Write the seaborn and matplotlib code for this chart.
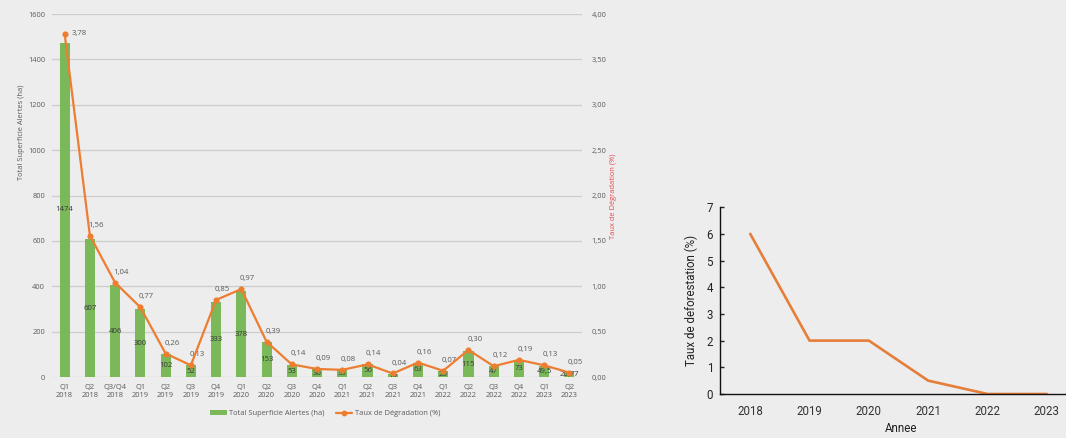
import matplotlib
matplotlib.use("Agg")
import matplotlib.pyplot as plt
import seaborn as sns
import numpy as np
import pandas as pd
from matplotlib.patches import Patch
from matplotlib.lines import Line2D
from matplotlib.ticker import FuncFormatter, MultipleLocator

# ---- data -------------------------------------------------------------
periods = ["Q1\n2018", "Q2\n2018", "Q3/Q4\n2018", "Q1\n2019", "Q2\n2019", "Q3\n2019",
           "Q4\n2019", "Q1\n2020", "Q2\n2020", "Q3\n2020", "Q4\n2020", "Q1\n2021",
           "Q2\n2021", "Q3\n2021", "Q4\n2021", "Q1\n2022", "Q2\n2022", "Q3\n2022",
           "Q4\n2022", "Q1\n2023", "Q2\n2023"]
area_ha = [1474, 607, 406, 300, 102, 52, 333, 378, 153, 53, 36, 33, 56, 15, 63,
           26, 115, 47, 73, 49.5, 20.77]
degradation_pct = [3.78, 1.56, 1.04, 0.77, 0.26, 0.13, 0.85, 0.97, 0.39, 0.14, 0.09,
                   0.08, 0.14, 0.04, 0.16, 0.07, 0.30, 0.12, 0.19, 0.13, 0.05]

years = [2018, 2019, 2020, 2021, 2022, 2023]
deforestation_pct = [6, 2, 2, 0.5, 0, 0]

# ---- style ------------------------------------------------------------
BG = "#EDEDED"
GREEN = "#7AB85A"
ORANGE = "#ED7D31"
GRID = "#CDCDCD"
TXT = "#5A5A5A"

sns.set_theme(style="white")
plt.rcParams["font.family"] = ["Open Sans", "DejaVu Sans"]

fig = plt.figure(figsize=(10.66, 4.38), dpi=100, facecolor=BG)


def comma(v, decimals):
    return f"{v:.{decimals}f}".replace(".", ",")


def area_label(v):
    if float(v).is_integer():
        return f"{int(v)}"
    return f"{v:g}".replace(".", ",")


# ---- left: bars + degradation rate ------------------------------------
df = pd.DataFrame({"period": periods, "area": area_ha, "rate": degradation_pct})

ax = fig.add_axes([0.0488, 0.139, 0.4972, 0.829], facecolor=BG)
sns.barplot(data=df, x="period", y="area", order=periods, color=GREEN,
            width=0.4, saturation=1, edgecolor="none", linewidth=0, ax=ax, zorder=2)
ax.set_ylim(0, 1600)
ax.yaxis.set_major_locator(MultipleLocator(200))
ax.grid(axis="y", color=GRID, linewidth=0.9, zorder=0)
ax.set_axisbelow(True)
for s in ax.spines.values():
    s.set_visible(False)
ax.tick_params(axis="both", length=0, labelsize=5.4, labelcolor=TXT, pad=5)
for t in ax.get_xticklabels():
    t.set_linespacing(1.25)
ax.set_xlabel("")
ax.set_ylabel("")

for i, v in enumerate(area_ha):
    ax.text(i, v / 2, area_label(v), ha="center", va="center", fontsize=5.6,
            color="#3A3A3A", zorder=5)

ax2 = ax.twinx()
ax2.set_facecolor("none")
sns.pointplot(data=df, x="period", y="rate", order=periods, color=ORANGE,
              markers="o", markersize=3.2, linewidth=1.6, ax=ax2, zorder=4)
ax2.set_ylim(0, 4)
ax2.set_xlim(-0.5, len(periods) - 0.5)
ax.set_xlim(-0.5, len(periods) - 0.5)
ax2.yaxis.set_major_locator(MultipleLocator(0.5))
ax2.yaxis.set_major_formatter(FuncFormatter(lambda v, p: comma(v, 2)))
ax2.tick_params(axis="y", length=0, labelsize=5.4, labelcolor=TXT, pad=7)
for s in ax2.spines.values():
    s.set_visible(False)
ax2.set_ylabel("")
ax2.set_xlabel("")

for i, r in enumerate(degradation_pct):
    if i == 0:
        ax2.annotate(comma(r, 2), (i, r), xytext=(5, 0), textcoords="offset points",
                     ha="left", va="center", fontsize=5.6, color=TXT)
    else:
        ax2.annotate(comma(r, 2), (i, r), xytext=(4.5, 7.5), textcoords="offset points",
                     ha="center", va="center", fontsize=5.6, color=TXT)

fig.text(0.0205, 1 - 132 / 438, "Total Superficie Alertes (ha)", rotation=90,
         ha="center", va="center", fontsize=5.4, color=TXT)
fig.text(0.5755, 1 - 196 / 438, "Taux de Dégradation (%)", rotation=90,
         ha="center", va="center", fontsize=5.4, color="#E8474A")

handles = [Patch(facecolor=GREEN, edgecolor="none"),
           Line2D([], [], color=ORANGE, linewidth=1.6, marker="o", markersize=3.2)]
fig.legend(handles, ["Total Superficie Alertes (ha)", "Taux de Dégradation (%)"],
           loc="center", bbox_to_anchor=(0.305, 0.055), ncol=2, frameon=False,
           fontsize=5.4, labelcolor=TXT, handlelength=2.2, handleheight=0.6,
           columnspacing=1.5, handletextpad=0.3)

# ---- right: yearly deforestation rate ---------------------------------
axr = fig.add_axes([0.6754, 0.1005, 0.34, 0.4265], facecolor=BG)
ydf = pd.DataFrame({"year": years, "rate": deforestation_pct})
sns.lineplot(data=ydf, x="year", y="rate", color="#E57E3A", linewidth=1.9, ax=axr)
axr.set_xlim(2017.49, 2023.6)
axr.set_ylim(0, 7)
axr.set_xticks(years)
axr.set_xticks([y + 0.5 for y in years[:-1]], minor=True)
axr.tick_params(axis="x", which="major", length=0, pad=8, labelsize=8.3,
                labelcolor="#333333")
axr.tick_params(axis="x", which="minor", length=3, direction="in", width=1,
                color="#222222")
axr.tick_params(axis="y", length=3, direction="in", width=1, color="#222222",
                labelsize=8.3, labelcolor="#222222", pad=5, left=True)
axr.yaxis.set_major_locator(MultipleLocator(1))
for t in axr.get_xticklabels() + axr.get_yticklabels():
    t.set_fontfamily(["Roboto", "DejaVu Sans"])
axr.spines["top"].set_visible(False)
axr.spines["right"].set_visible(False)
for s in ("left", "bottom"):
    axr.spines[s].set_color("#111111")
    axr.spines[s].set_linewidth(1.0)
axr.set_xlabel("Annee", fontsize=8.3, color="#222222", family=["Roboto", "DejaVu Sans"],
               labelpad=3)
axr.set_ylabel("Taux de deforestation (%)", fontsize=8.3, color="#222222",
               family=["Roboto", "DejaVu Sans"], labelpad=6)
axr.grid(False)

fig.savefig("out.png", dpi=100, facecolor=BG)
